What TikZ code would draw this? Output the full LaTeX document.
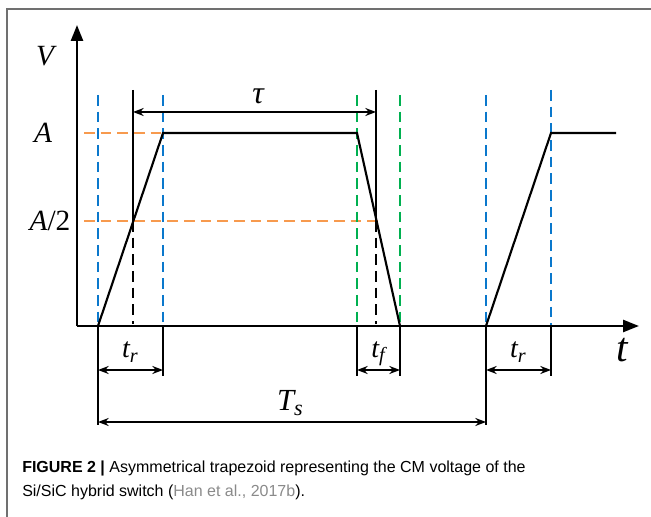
\documentclass[tikz,border=0pt]{standalone}
\usepackage{fontspec}
\setmainfont{Liberation Serif}
\newfontfamily\capfont{Liberation Sans}
\usetikzlibrary{arrows.meta}
\definecolor{dblue}{HTML}{0A78CC}
\definecolor{dgreen}{HTML}{00B050}
\definecolor{dorange}{HTML}{F79A4E}
\definecolor{framegray}{HTML}{707070}
\definecolor{citegray}{HTML}{8A8A8A}
\newcommand{\sub}[2]{\textit{#1}\raisebox{-0.35ex}{\scalebox{0.72}{\textit{#2}}}}
\tikzset{
  axis/.style={line width=1.9pt,-{Triangle[length=12pt,width=9pt]}},
  wave/.style={line width=1.6pt,line join=miter},
  vdash/.style={line width=1.4pt,dash pattern=on 8pt off 4.5pt},
  bluedash/.style={vdash,dblue},
  greendash/.style={vdash,dgreen},
  orangedash/.style={vdash,dorange},
  blackdash/.style={vdash,black},
  tick/.style={line width=1.2pt},
  dim/.style={line width=1.2pt,{Stealth[length=8pt,width=6pt]}-{Stealth[length=8pt,width=6pt]}},
  lbl/.style={font=\fontsize{21}{25}\selectfont\itshape,inner sep=0pt},
  caption/.style={font=\capfont\fontsize{12}{14}\selectfont,inner sep=0pt,anchor=base west}
}
\begin{document}
\begin{tikzpicture}[x=0.75pt,y=-0.75pt]
\useasboundingbox (0,0) rectangle (651,517);
\draw[framegray,line width=0.9pt] (651,9) -- (7,9) -- (7,517);

% key coordinates
\coordinate (O) at (77,326);
\coordinate (ytop) at (77,25);
\coordinate (xend) at (639,326);
\coordinate (p1) at (98,326);
\coordinate (p2) at (163,133);
\coordinate (p3) at (357,133);
\coordinate (p4) at (400,326);
\coordinate (p5) at (486,326);
\coordinate (p6) at (551,133);
\coordinate (p7) at (616,133);

% dashed guides
\coordinate (oa1) at (84,133);
\coordinate (oa2) at (84,221);
\coordinate (ob2) at (378,221);
\draw[orangedash] (oa1) -- (p2);
\draw[orangedash] (oa2) -- (ob2);

\coordinate (b1t) at (98,95);
\coordinate (b2t) at (163,95);
\coordinate (b2b) at (163,326);
\coordinate (b3t) at (486,95);
\coordinate (b4t) at (551,90);
\coordinate (b4b) at (551,326);
\draw[bluedash] (b1t) -- (p1);
\draw[bluedash] (b2t) -- (b2b);
\draw[bluedash] (b3t) -- (p5);
\draw[bluedash] (b4t) -- (b4b);

\coordinate (g1t) at (357,95);
\coordinate (g1b) at (357,326);
\coordinate (g2t) at (400,95);
\draw[greendash] (g1t) -- (g1b);
\draw[greendash] (g2t) -- (p4);

\coordinate (k1t) at (133,90);
\coordinate (k1m) at (133,221);
\coordinate (k1b) at (133,324);
\coordinate (k2t) at (376,90);
\coordinate (k2m) at (376,221);
\coordinate (k2b) at (376,324);
\draw[tick] (k1t) -- (k1m);
\draw[tick] (k2t) -- (k2m);
\draw[blackdash] (k1m) -- (k1b);
\draw[blackdash] (k2m) -- (k2b);

% waveform
\draw[wave] (p1) -- (p2) -- (p3) -- (p4);
\draw[wave] (p5) -- (p6) -- (p7);

% axes
\draw[axis] (O) -- (ytop);
\draw[axis] (O) -- (xend);

% tau dimension
\coordinate (ta) at (133,112);
\coordinate (tb) at (376,112);
\draw[dim] (ta) -- (tb);
\node[lbl,font=\fontsize{24}{28}\selectfont\itshape] (tau) at (258,96) {τ};

% ticks below axis
\coordinate (d1) at (98,425);
\coordinate (d2) at (163,376);
\coordinate (d3) at (357,376);
\coordinate (d4) at (400,376);
\coordinate (d5) at (486,425);
\coordinate (d6) at (551,376);
\draw[tick] (p1) -- (d1);
\draw[tick] (b2b) -- (d2);
\draw[tick] (g1b) -- (d3);
\draw[tick] (p4) -- (d4);
\draw[tick] (p5) -- (d5);
\draw[tick] (b4b) -- (d6);

\coordinate (r1a) at (98,370);
\coordinate (r1b) at (163,370);
\coordinate (fa) at (357,370);
\coordinate (fb) at (400,370);
\coordinate (r2a) at (486,370);
\coordinate (r2b) at (551,370);
\coordinate (sa) at (98,422);
\coordinate (sb) at (486,422);
\draw[dim] (r1a) -- (r1b);
\draw[dim] (fa) -- (fb);
\draw[dim] (r2a) -- (r2b);
\draw[dim] (sa) -- (sb);

\node[lbl] (tr1) at (130,352) {\sub{t}{r}};
\node[lbl] (tf) at (378,354) {\sub{t}{f}};
\node[lbl] (tr2) at (518,352) {\sub{t}{r}};
\node[lbl,font=\fontsize{23}{27}\selectfont\itshape] (Ts) at (290,403) {\sub{T}{s}};

% axis labels
\node[lbl,font=\fontsize{22}{26}\selectfont\itshape] (V) at (45,56) {V};
\node[lbl,font=\fontsize{22}{26}\selectfont\itshape] (A) at (43,133) {A};
\node[lbl,font=\fontsize{22}{26}\selectfont\itshape] (A2) at (50,221) {\textit{A}\upshape/2};
\node[lbl,font=\fontsize{31}{35}\selectfont\itshape] (t) at (622,350) {t};

% caption
\node[caption] (cap1) at (22,472) {\textbf{FIGURE 2 |} Asymmetrical trapezoid representing the CM voltage of the};
\node[caption] (cap2) at (22,496) {Si/SiC hybrid switch (\textcolor{citegray}{Han et al., 2017b}).};
\end{tikzpicture}
\end{document}
